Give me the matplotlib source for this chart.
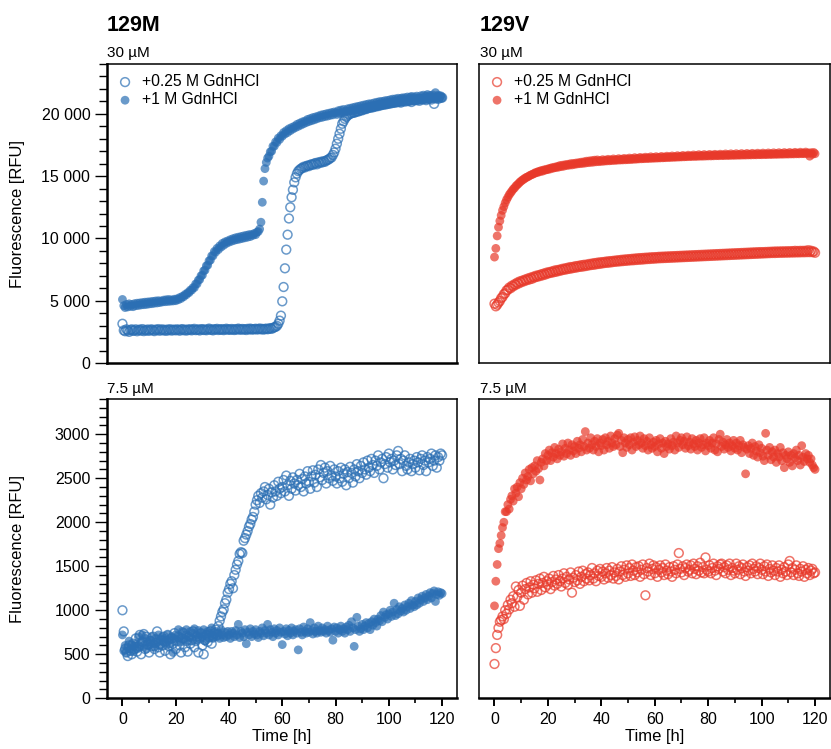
import matplotlib
matplotlib.use('Agg')
import matplotlib.pyplot as plt
from matplotlib.ticker import MultipleLocator, FuncFormatter

plt.rcParams['font.family'] = ['Liberation Sans', 'DejaVu Sans']

# sampling times [h], every 30 min
hours = [i / 2 for i in range(241)]

# 129M, 30 uM
m30_low = [
    3150, 2620, 2550, 2700, 2600, 2500, 2650, 2700, 2580, 2620,
    2700, 2550, 2640, 2680, 2600, 2720, 2560, 2650, 2610, 2690,
    2580, 2660, 2700, 2620, 2560, 2680, 2640, 2720, 2590, 2650,
    2700, 2610, 2660, 2580, 2690, 2640, 2710, 2600, 2650, 2680,
    2620, 2700, 2660, 2590, 2680, 2720, 2630, 2670, 2600, 2690,
    2650, 2710, 2620, 2680, 2740, 2640, 2660, 2700, 2610, 2690,
    2720, 2650, 2680, 2630, 2700, 2760, 2660, 2690, 2620, 2710,
    2680, 2740, 2650, 2700, 2670, 2720, 2640, 2690, 2750, 2680,
    2700, 2660, 2730, 2690, 2650, 2720, 2680, 2760, 2700, 2670,
    2730, 2690, 2710, 2650, 2740, 2700, 2760, 2680, 2720, 2700,
    2750, 2690, 2720, 2770, 2700, 2740, 2680, 2730, 2760, 2710,
    2750, 2800, 2740, 2820, 2860, 2900, 2980, 3150, 3400, 3800,
    4950, 6100, 7600, 9100, 10300, 11600, 12500, 13300, 13900, 14500,
    14900, 15200, 15400, 15500, 15600, 15650, 15750, 15700, 15800, 15850,
    15800, 15900, 15950, 15900, 16000, 16050, 15950, 16100, 16050, 16150,
    16100, 16200, 16150, 16250, 16300, 16350, 16450, 16500, 16700, 16900,
    17200, 17600, 18000, 18400, 18800, 19200, 19400, 19600, 19750, 19850,
    19950, 20000, 20050, 20100, 20080, 20150, 20200, 20180, 20250, 20300,
    20280, 20350, 20400, 20380, 20450, 20500, 20480, 20550, 20520, 20600,
    20580, 20650, 20620, 20700, 20680, 20750, 20720, 20800, 20760, 20830,
    20800, 20870, 20850, 20900, 20880, 20950, 20920, 21000, 20960, 20900,
    21000, 21050, 20980, 21080, 21020, 21100, 21050, 20950, 21120, 21080,
    21150, 21100, 21180, 21050, 21200, 21150, 21220, 21180, 21100, 21250,
    21200, 21280, 21150, 21300, 20800, 21250, 21320, 21200, 21350, 21280,
    21300]
m30_high = [
    5100, 4600, 4450, 4700, 4500, 4750, 4550, 4700, 4520, 4760,
    4600, 4800, 4620, 4820, 4660, 4850, 4680, 4880, 4700, 4900,
    4740, 4920, 4760, 4950, 4800, 4980, 4820, 5000, 4850, 4980,
    4900, 5050, 4920, 5080, 4940, 5100, 4960, 5060, 4980, 5120,
    5000, 5150, 5080, 5250, 5180, 5350, 5320, 5500, 5480, 5650,
    5650, 5850, 5850, 6050, 6050, 6350, 6350, 6650, 6700, 7000,
    7050, 7400, 7450, 7800, 7850, 8200, 8250, 8600, 8600, 8950,
    8900, 9200, 9100, 9400, 9300, 9600, 9450, 9720, 9600, 9800,
    9700, 9900, 9780, 9980, 9850, 10050, 9900, 10100, 9950, 10150,
    10000, 10200, 10050, 10250, 10100, 10300, 10150, 10320, 10250, 10400,
    10300, 10500, 10550, 10750, 11300, 12900, 14600, 15600, 16100, 16450,
    16600, 16950, 17000, 17400, 17400, 17750, 17700, 18050, 17950, 18250,
    18200, 18500, 18380, 18650, 18500, 18800, 18650, 18900, 18780, 19000,
    18900, 19150, 19000, 19250, 19100, 19350, 19200, 19420, 19300, 19550,
    19380, 19620, 19450, 19700, 19520, 19750, 19600, 19820, 19680, 19900,
    19720, 19950, 19780, 20000, 19820, 20050, 19880, 20100, 19920, 20150,
    20080, 19950, 20250, 20050, 20300, 20080, 20350, 20130, 20220, 20400,
    20200, 20450, 20230, 20500, 20280, 20550, 20330, 20600, 20380, 20650,
    20420, 20700, 20480, 20750, 20520, 20800, 20560, 20820, 20620, 20880,
    20650, 20930, 20700, 20980, 20740, 21000, 20780, 21050, 20820, 21080,
    20870, 21130, 20900, 21180, 20950, 21200, 20980, 21250, 21000, 21220,
    21280, 21020, 21300, 21080, 21350, 21050, 21320, 21400, 21100, 21360,
    21150, 21420, 21200, 21100, 21450, 21230, 21500, 21180, 21430, 21550,
    21250, 21480, 21200, 21520, 21300, 21700, 21230, 21500, 21280, 21450,
    21300]

# 129V, 30 uM
v30_low = [
    4760, 4550, 4680, 4850, 4980, 5200, 5300, 5520, 5600, 5820,
    5880, 6050, 6000, 6200, 6150, 6320, 6280, 6450, 6380, 6550,
    6480, 6620, 6560, 6700, 6640, 6780, 6700, 6850, 6760, 6920,
    6860, 7000, 6920, 7050, 6980, 7120, 7040, 7180, 7100, 7250,
    7180, 7300, 7230, 7350, 7280, 7420, 7320, 7460, 7380, 7500,
    7430, 7560, 7480, 7600, 7520, 7650, 7560, 7700, 7600, 7720,
    7640, 7780, 7680, 7800, 7720, 7850, 7740, 7880, 7780, 7900,
    7820, 7950, 7860, 7980, 7880, 8020, 7920, 8050, 7950, 8080,
    7980, 8100, 8020, 8130, 8040, 8160, 8060, 8180, 8090, 8200,
    8120, 8230, 8140, 8250, 8160, 8280, 8180, 8300, 8200, 8320,
    8220, 8340, 8240, 8360, 8250, 8380, 8270, 8400, 8290, 8420,
    8300, 8430, 8320, 8450, 8340, 8460, 8350, 8480, 8370, 8490,
    8380, 8500, 8400, 8520, 8410, 8530, 8420, 8540, 8430, 8550,
    8440, 8560, 8450, 8570, 8460, 8580, 8470, 8590, 8480, 8600,
    8490, 8610, 8500, 8620, 8510, 8630, 8520, 8640, 8530, 8650,
    8540, 8660, 8550, 8670, 8560, 8680, 8570, 8690, 8580, 8700,
    8590, 8710, 8600, 8720, 8610, 8730, 8620, 8740, 8630, 8750,
    8640, 8760, 8650, 8770, 8660, 8780, 8670, 8790, 8680, 8800,
    8690, 8810, 8700, 8820, 8710, 8830, 8720, 8840, 8730, 8850,
    8740, 8860, 8750, 8870, 8760, 8880, 8770, 8890, 8780, 8900,
    8790, 8900, 8800, 8910, 8810, 8920, 8820, 8930, 8830, 8940,
    8830, 8950, 8840, 8950, 8850, 8960, 8850, 8960, 8860, 8970,
    8860, 8970, 8870, 8980, 8870, 9000, 8880, 8990, 8880, 9000,
    8890, 9000, 8890, 9010, 8900, 9050, 8900, 9010, 8900, 8950,
    8850]
v30_high = [
    8500, 9200, 10200, 10900, 11400, 11850, 12250, 12550, 12850, 13100,
    13300, 13500, 13650, 13800, 13950, 14050, 14200, 14300, 14400, 14520,
    14600, 14700, 14750, 14850, 14900, 14950, 15020, 15080, 15120, 15180,
    15220, 15300, 15280, 15380, 15350, 15450, 15400, 15500, 15480, 15550,
    15520, 15620, 15580, 15680, 15640, 15720, 15680, 15780, 15720, 15850,
    15760, 15880, 15800, 15920, 15850, 15950, 15880, 16000, 15900, 16020,
    15940, 16050, 15980, 16080, 16000, 16120, 16020, 16150, 16050, 16200,
    16080, 16220, 16100, 16250, 16120, 16280, 16150, 16300, 16160, 16250,
    16180, 16320, 16200, 16280, 16220, 16350, 16230, 16300, 16250, 16380,
    16260, 16320, 16280, 16400, 16290, 16350, 16300, 16420, 16310, 16380,
    16320, 16450, 16330, 16400, 16350, 16480, 16360, 16420, 16380, 16500,
    16390, 16450, 16400, 16520, 16410, 16470, 16420, 16550, 16430, 16490,
    16440, 16560, 16450, 16500, 16460, 16580, 16470, 16520, 16480, 16600,
    16490, 16550, 16500, 16620, 16510, 16560, 16520, 16640, 16530, 16580,
    16540, 16660, 16550, 16600, 16560, 16680, 16570, 16620, 16580, 16700,
    16580, 16640, 16590, 16720, 16600, 16650, 16600, 16730, 16610, 16660,
    16620, 16740, 16620, 16680, 16630, 16750, 16640, 16690, 16640, 16760,
    16650, 16700, 16650, 16780, 16660, 16710, 16660, 16790, 16670, 16720,
    16670, 16800, 16680, 16730, 16680, 16810, 16690, 16740, 16690, 16820,
    16700, 16750, 16700, 16830, 16710, 16760, 16710, 16840, 16720, 16770,
    16720, 16850, 16730, 16780, 16730, 16860, 16740, 16790, 16740, 16870,
    16750, 16800, 16750, 16880, 16760, 16810, 16760, 16890, 16770, 16820,
    16770, 16900, 16780, 16830, 16780, 16910, 16790, 16840, 16790, 16920,
    16800, 16850, 16800, 16930, 16810, 16860, 16600, 16880, 16750, 16900,
    16800]

# 129M, 7.5 uM
m75_low = [
    1000, 760, 560, 520, 480, 600, 540, 500, 620, 560,
    680, 530, 590, 720, 500, 640, 730, 560, 700, 610,
    520, 650, 590, 700, 560, 630, 760, 580, 520, 660,
    600, 700, 540, 650, 720, 590, 500, 680, 620, 740,
    560, 650, 700, 600, 520, 680, 740, 580, 650, 530,
    700, 620, 660, 760, 580, 650, 700, 520, 680, 740,
    600, 500, 660, 720, 640, 690, 760, 620, 700, 740,
    780, 720, 820, 880, 930, 980, 1010, 1080, 1120, 1200,
    1240, 1300, 1330, 1250, 1400, 1460, 1520, 1560, 1640, 1660,
    1650, 1790, 1820, 1860, 1900, 1950, 1980, 2030, 2060, 2120,
    2200, 2250, 2300, 2220, 2330, 2280, 2350, 2400, 2260, 2310,
    2380, 2200, 2340, 2280, 2420, 2350, 2300, 2460, 2380, 2330,
    2400, 2480, 2350, 2530, 2420, 2300, 2470, 2380, 2510, 2440,
    2360, 2480, 2420, 2550, 2400, 2490, 2350, 2520, 2440, 2580,
    2460, 2380, 2520, 2590, 2450, 2540, 2400, 2600, 2510, 2650,
    2480, 2560, 2620, 2440, 2580, 2500, 2640, 2530, 2470, 2600,
    2520, 2440, 2580, 2500, 2620, 2460, 2550, 2600, 2420, 2570,
    2500, 2630, 2560, 2450, 2600, 2520, 2660, 2580, 2500, 2640,
    2560, 2680, 2600, 2540, 2700, 2620, 2580, 2720, 2650, 2560,
    2700, 2640, 2760, 2600, 2680, 2720, 2500, 2660, 2740, 2620,
    2780, 2680, 2720, 2600, 2700, 2650, 2760, 2810, 2660, 2720,
    2580, 2700, 2760, 2640, 2600, 2680, 2720, 2580, 2660, 2700,
    2620, 2740, 2680, 2590, 2720, 2760, 2650, 2700, 2580, 2740,
    2680, 2720, 2780, 2640, 2700, 2760, 2620, 2740, 2700, 2780,
    2760]
m75_high = [
    720, 540, 600, 520, 580, 650, 560, 610, 530, 590,
    620, 560, 700, 580, 640, 720, 600, 680, 560, 640,
    600, 660, 700, 620, 580, 680, 640, 720, 600, 660,
    700, 640, 680, 600, 720, 660, 620, 700, 520, 680,
    720, 660, 780, 700, 640, 760, 680, 720, 780, 650,
    700, 760, 680, 740, 790, 660, 720, 770, 690, 740,
    700, 780, 650, 730, 760, 690, 740, 800, 680, 720,
    760, 700, 740, 680, 780, 720, 690, 750, 700, 760,
    720, 680, 760, 740, 700, 770, 720, 840, 690, 760,
    740, 700, 780, 620, 750, 720, 790, 700, 760, 730,
    780, 720, 690, 760, 740, 800, 710, 770, 740, 840,
    720, 780, 750, 700, 790, 740, 770, 720, 800, 750,
    610, 760, 730, 790, 710, 770, 740, 800, 720, 760,
    780, 740, 550, 790, 750, 720, 810, 760, 740, 790,
    750, 860, 770, 730, 800, 760, 740, 820, 770, 750,
    800, 760, 780, 740, 820, 770, 750, 790, 660, 810,
    760, 800, 740, 780, 820, 760, 790, 740, 810, 780,
    830, 760, 870, 800, 590, 780, 920, 820, 760, 790,
    840, 780, 820, 860, 800, 850, 780, 870, 830, 900,
    860, 820, 900, 880, 940, 870, 980, 920, 950, 900,
    960, 1000, 930, 980, 1080, 940, 1010, 960, 1040, 990,
    1020, 980, 1060, 1000, 1040, 1080, 1020, 1110, 1060, 1040,
    1100, 1060, 1140, 1080, 1120, 1160, 1100, 1140, 1180, 1120,
    1160, 1200, 1140, 1190, 1220, 1100, 1180, 1210, 1170, 1200,
    1190]

# 129V, 7.5 uM
v75_low = [
    390, 570, 720, 800, 870, 890, 930, 900, 1000, 960,
    1060, 1010, 1120, 1080, 1160, 1040, 1270, 1150, 1230, 1050,
    1200, 1280, 1120, 1240, 1310, 1180, 1260, 1330, 1200, 1290,
    1250, 1340, 1210, 1300, 1360, 1230, 1310, 1380, 1260, 1330,
    1290, 1360, 1240, 1320, 1390, 1280, 1350, 1300, 1400, 1330,
    1270, 1360, 1420, 1310, 1380, 1290, 1350, 1430, 1200, 1370,
    1320, 1400, 1340, 1440, 1300, 1380, 1450, 1330, 1410, 1360,
    1430, 1340, 1400, 1480, 1360, 1420, 1330, 1450, 1390, 1470,
    1380, 1440, 1350, 1420, 1480, 1370, 1450, 1400, 1490, 1360,
    1430, 1390, 1470, 1350, 1440, 1500, 1400, 1460, 1380, 1510,
    1420, 1480, 1390, 1520, 1450, 1400, 1490, 1430, 1500, 1380,
    1460, 1520, 1410, 1170, 1480, 1440, 1530, 1400, 1470, 1510,
    1420, 1490, 1380, 1460, 1510, 1430, 1480, 1400, 1520, 1450,
    1410, 1490, 1440, 1380, 1500, 1460, 1420, 1520, 1650, 1470,
    1430, 1500, 1400, 1480, 1520, 1440, 1460, 1510, 1420, 1530,
    1470, 1410, 1500, 1450, 1540, 1430, 1490, 1420, 1600, 1460,
    1440, 1510, 1420, 1480, 1530, 1450, 1400, 1500, 1470, 1520,
    1530, 1440, 1490, 1420, 1510, 1460, 1530, 1400, 1480, 1450,
    1420, 1530, 1460, 1500, 1410, 1480, 1520, 1440, 1390, 1490,
    1450, 1510, 1420, 1530, 1470, 1440, 1500, 1410, 1480, 1530,
    1460, 1410, 1500, 1440, 1520, 1390, 1470, 1430, 1510, 1450,
    1400, 1480, 1440, 1510, 1380, 1460, 1420, 1490, 1440, 1400,
    1520, 1560, 1430, 1480, 1400, 1460, 1510, 1420, 1390, 1470,
    1440, 1500, 1380, 1460, 1420, 1480, 1400, 1450, 1470, 1420,
    1430]
v75_high = [
    1050, 1330, 1520, 1700, 1760, 1850, 1940, 2000, 2120, 2120,
    2200, 2150, 2260, 2300, 2240, 2380, 2330, 2400, 2290, 2450,
    2380, 2500, 2430, 2560, 2480, 2520, 2600, 2470, 2620, 2550,
    2640, 2580, 2700, 2610, 2480, 2680, 2720, 2640, 2780, 2700,
    2760, 2820, 2700, 2790, 2740, 2850, 2780, 2720, 2830, 2760,
    2800, 2890, 2750, 2840, 2780, 2900, 2820, 2760, 2880, 2810,
    2860, 2780, 2920, 2840, 2880, 2800, 2940, 2860, 3030, 2820,
    2900, 2840, 2960, 2880, 2820, 2920, 2860, 2950, 2800, 2900,
    2870, 2940, 2820, 2960, 2880, 2920, 2840, 2980, 2900, 2860,
    2950, 2880, 2990, 3010, 2860, 2930, 2790, 2960, 2900, 2850,
    2940, 2880, 2960, 2820, 2910, 2970, 2860, 2930, 2880, 2980,
    2900, 2840, 2950, 2870, 2920, 2820, 2960, 2880, 2840, 2910,
    2860, 2930, 2800, 2890, 2950, 2840, 2900, 2780, 2920, 2860,
    2890, 2830, 2950, 2870, 2910, 2820, 2980, 2900, 2850, 2930,
    2960, 2880, 2920, 2840, 2970, 2870, 2910, 2830, 2950, 2890,
    2860, 2930, 2820, 2900, 2950, 2850, 2880, 2960, 2810, 2900,
    2870, 2930, 2840, 2900, 2960, 2820, 2890, 2800, 2940, 3000,
    2860, 2910, 2830, 2880, 2940, 2850, 2900, 2810, 2870, 2930,
    2840, 2900, 2820, 2870, 2930, 2790, 2880, 2850, 2550, 2830,
    2870, 2780, 2840, 2900, 2760, 2860, 2810, 2740, 2880, 2790,
    2840, 2750, 2700, 3010, 2820, 2760, 2850, 2710, 2800, 2740,
    2820, 2680, 2780, 2740, 2850, 2700, 2790, 2620, 2760, 2720,
    2800, 2680, 2760, 2640, 2780, 2730, 2820, 2700, 2760, 2650,
    2870, 2740, 2690, 2780, 2720, 2760, 2680, 2720, 2650, 2620,
    2600]

blue = '#2b6fb4'
red = '#e8392a'

fig = plt.figure(figsize=(8.31, 7.49), dpi=100)

W, H = 831, 749


def make_axes(left, top, right, bottom):
    return fig.add_axes([left / W, 1 - bottom / H, (right - left) / W, (bottom - top) / H])


ax_tl = make_axes(107, 64, 457, 363)
ax_tr = make_axes(479, 64, 830, 363)
ax_bl = make_axes(107, 399, 457, 698.3)
ax_br = make_axes(479, 399, 830, 698.3)


def draw(ax, low, high, color, legend=False):
    ax.scatter(hours, low, s=40, facecolors='none', edgecolors=color,
               linewidths=1.1, alpha=0.7, label='+0.25 M GdnHCl', zorder=2)
    ax.scatter(hours, high, s=40, color=color, edgecolors='none',
               alpha=0.7, label='+1 M GdnHCl', zorder=3)
    ax.set_xlim(-5.8, 125.6)
    for sp in ax.spines.values():
        sp.set_linewidth(1.1)
    if legend:
        ax.legend(loc='upper left', frameon=False, fontsize=11.3,
                  scatterpoints=1, handlelength=1.0, handletextpad=0.6,
                  labelspacing=0.2, borderaxespad=0.35, borderpad=0.3)


draw(ax_tl, m30_low, m30_high, blue, legend=True)
draw(ax_tr, v30_low, v30_high, red, legend=True)
draw(ax_bl, m75_low, m75_high, blue)
draw(ax_br, v75_low, v75_high, red)

thousands = FuncFormatter(lambda v, p: f"{v:,.0f}".replace(",", " "))

for ax in (ax_tl, ax_tr):
    ax.set_ylim(0, 24000)
    ax.yaxis.set_major_locator(MultipleLocator(5000))
    ax.yaxis.set_minor_locator(MultipleLocator(1000))
    ax.yaxis.set_major_formatter(thousands)
    ax.tick_params(axis='x', which='both', bottom=False, labelbottom=False)

for ax in (ax_bl, ax_br):
    ax.set_ylim(0, 3400)
    ax.yaxis.set_major_locator(MultipleLocator(500))
    ax.yaxis.set_minor_locator(MultipleLocator(100))
    ax.xaxis.set_major_locator(MultipleLocator(20))
    ax.xaxis.set_minor_locator(MultipleLocator(10))
    ax.tick_params(axis='x', which='major', direction='out', length=6,
                   width=1.4, labelsize=11.5, pad=4)
    ax.tick_params(axis='x', which='minor', direction='out', length=3.5, width=1.2)
    ax.set_xlabel('Time [h]', fontsize=12, labelpad=1)

for ax in (ax_tl, ax_bl):
    ax.tick_params(axis='y', which='major', direction='out', length=9,
                   width=1.0, labelsize=11.5, pad=3)
    ax.tick_params(axis='y', which='minor', direction='out', length=6, width=1.0)
    ax.spines['left'].set_linewidth(1.8)
    ax.spines['bottom'].set_linewidth(1.8)
    ax.set_ylabel('Fluorescence [RFU]', fontsize=12)
    ax.yaxis.set_label_coords(-0.235, 0.5)

ax_br.spines['bottom'].set_linewidth(1.8)

for ax in (ax_tr, ax_br):
    ax.tick_params(axis='y', which='both', left=False, labelleft=False)

fig.text(107 / W, 1 - 31 / H, '129M', fontsize=15.5, fontweight='bold', va='baseline')
fig.text(480 / W, 1 - 31 / H, '129V', fontsize=15.5, fontweight='bold', va='baseline')
for x in (107, 480):
    fig.text(x / W, 1 - 57.5 / H, '30 µM', fontsize=11, va='baseline')
    fig.text(x / W, 1 - 393.5 / H, '7.5 µM', fontsize=11, va='baseline')

fig.savefig('out.png', dpi=100)
